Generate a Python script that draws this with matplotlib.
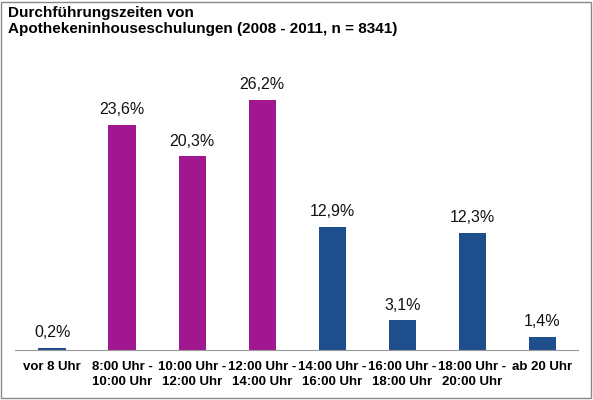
import matplotlib
matplotlib.use("Agg")
import matplotlib.pyplot as plt
from matplotlib.patches import Rectangle

plt.rcParams['font.family'] = ['Liberation Sans', 'DejaVu Sans']

categories = ["vor 8 Uhr", "8:00 Uhr -\n10:00 Uhr", "10:00 Uhr -\n12:00 Uhr",
              "12:00 Uhr -\n14:00 Uhr", "14:00 Uhr -\n16:00 Uhr", "16:00 Uhr -\n18:00 Uhr",
              "18:00 Uhr -\n20:00 Uhr", "ab 20 Uhr"]
values = [0.2, 23.6, 20.3, 26.2, 12.9, 3.1, 12.3, 1.4]
labels = ["0,2%", "23,6%", "20,3%", "26,2%", "12,9%", "3,1%", "12,3%", "1,4%"]
colors = ["#1F4E8C", "#A1178F", "#A1178F", "#A1178F", "#1F4E8C", "#1F4E8C", "#1F4E8C", "#1F4E8C"]

W, H = 593, 400
fig = plt.figure(figsize=(W / 100, H / 100), dpi=100)
ax = fig.add_axes([15 / W, 1 - 350 / H, (578 - 15) / W, 290 / H])

x = range(len(values))
ax.bar(x, values, width=0.39, color=colors)
for i, v in enumerate(values):
    ax.text(i, v + 0.8, labels[i], ha="center", va="bottom", fontsize=11.5, color="#111111")

ax.set_xlim(-0.53, 7.51)
ax.set_ylim(0, 30.4)
ax.set_xticks(list(x))
ax.set_xticklabels(categories, fontsize=9.5, fontweight="bold", linespacing=1.3)
ax.tick_params(axis="x", length=0, pad=8)
ax.set_yticks([])
for s in ["top", "left", "right"]:
    ax.spines[s].set_visible(False)
ax.spines["bottom"].set_color("#999999")

fig.text(8 / W, 1 - 6 / H, "Durchführungszeiten von\nApothekeninhouseschulungen (2008 - 2011, n = 8341)",
         ha="left", va="top", fontsize=11, fontweight="bold", linespacing=1.2)
fig.patches.append(Rectangle((1 / W, 2 / H), (W - 3) / W, (H - 4) / H, transform=fig.transFigure,
                             fill=False, edgecolor="#888888", linewidth=1))

fig.savefig("out.png", dpi=100)
